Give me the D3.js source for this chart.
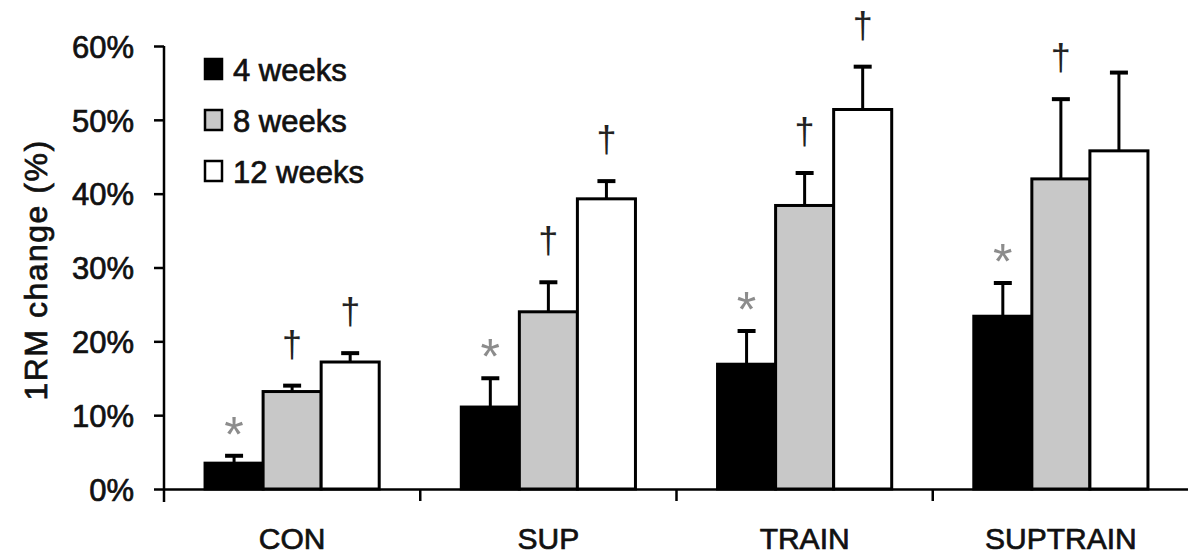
<!DOCTYPE html>
<html><head><meta charset="utf-8">
<script src="https://cdn.jsdelivr.net/npm/d3@7/dist/d3.min.js"></script>
<style>
html,body{margin:0;padding:0;background:#fff;}
svg text{font-family:"Liberation Sans",Arial,Helvetica,sans-serif;}
svg text.lbl{stroke:#111;stroke-width:0.7px;fill:#111;}
</style></head>
<body><svg id="c" width="1188" height="557"></svg>
<script>
const categories = ["CON", "SUP", "TRAIN", "SUPTRAIN"];
const seriesNames = ["4 weeks", "8 weeks", "12 weeks"];
const values4 = [3.5, 11.1, 16.9, 23.4];
const values8 = [13.2, 24.0, 38.4, 42.0];
const values12 = [17.2, 39.3, 51.4, 45.8];
const err4 = [1.0, 3.9, 4.5, 4.5];
const err8 = [0.8, 4.0, 4.4, 10.8];
const err12 = [1.2, 2.4, 5.8, 10.6];
const marks4 = ["*", "*", "*", "*"];
const marks8 = ["†", "†", "†", "†"];
const marks12 = ["†", "†", "†", ""];
const yTicks = [0, 10, 20, 30, 40, 50, 60];
const fills = ["#000000", "#c8c8c8", "#ffffff"];

const svg = d3.select("#c");
const X0 = 164, X1 = 1189, Y0 = 489, Y1 = 46;
const x = d3.scaleBand().domain(categories).range([X0, X1]).padding(0);
const xs = d3.scaleBand().domain(seriesNames).range([0, x.bandwidth()]).paddingInner(0).paddingOuter(0.707);
const y = d3.scaleLinear().domain([0, 60]).range([Y0, Y1]);

const series = [
  {name: seriesNames[0], vals: values4, errs: err4, marks: marks4},
  {name: seriesNames[1], vals: values8, errs: err8, marks: marks8},
  {name: seriesNames[2], vals: values12, errs: err12, marks: marks12}
];
const rows = [];
series.forEach((s, si) => categories.forEach((c, ci) => rows.push({c, s: s.name, si, v: s.vals[ci], e: s.errs[ci], m: s.marks[ci]})));
const cxOf = d => x(d.c) + xs(d.s) + xs.bandwidth() / 2;

// bars
svg.append("g").selectAll("rect").data(rows).join("rect")
  .attr("x", d => x(d.c) + xs(d.s))
  .attr("y", d => y(d.v))
  .attr("width", xs.bandwidth())
  .attr("height", d => y(0) - y(d.v))
  .attr("fill", d => fills[d.si])
  .attr("stroke", "#000").attr("stroke-width", 3);

// error bars
const eg = svg.append("g").attr("stroke", "#000");
eg.selectAll("line.v").data(rows).join("line").attr("class", "v")
  .attr("x1", cxOf).attr("x2", cxOf)
  .attr("y1", d => y(d.v)).attr("y2", d => y(d.v + d.e))
  .attr("stroke-width", 3);
eg.selectAll("line.cap").data(rows).join("line").attr("class", "cap")
  .attr("x1", d => cxOf(d) - 9).attr("x2", d => cxOf(d) + 9)
  .attr("y1", d => y(d.v + d.e)).attr("y2", d => y(d.v + d.e))
  .attr("stroke-width", 4);

// significance markers
svg.append("g").selectAll("text").data(rows.filter(d => d.m)).join("text")
  .attr("text-anchor", "middle")
  .attr("x", cxOf)
  .attr("y", d => d.m === "*" ? y(d.v + d.e) - 4 : y(d.v + d.e) - 29)
  .attr("font-size", d => d.m === "*" ? 50 : 36)
  .attr("fill", d => d.m === "*" ? "#8c8c8c" : "#222")
  .text(d => d.m);

// y axis
const ya = svg.append("g").attr("transform", `translate(${X0},0)`)
  .call(d3.axisLeft(y).tickValues(yTicks).tickSize(10).tickSizeOuter(0).tickFormat(d => d + "%"));
ya.select(".domain").remove();
ya.selectAll(".tick line").attr("stroke", "#000").attr("stroke-width", 2.5);
ya.selectAll(".tick text").attr("class", "lbl").attr("font-size", 31)
  .attr("x", -30).attr("dy", "0.36em").attr("text-anchor", "end");
svg.append("line").attr("x1", X0).attr("x2", X0).attr("y1", Y1).attr("y2", Y0 + 13)
  .attr("stroke", "#000").attr("stroke-width", 2.5);

// x axis
const xa = svg.append("g").attr("transform", `translate(0,${Y0})`)
  .call(d3.axisBottom(x).tickSize(0).tickSizeOuter(0));
xa.select(".domain").attr("stroke", "#000").attr("stroke-width", 2.5);
xa.selectAll(".tick text").attr("class", "lbl").attr("font-size", 30)
  .attr("y", 60).attr("dy", null);
xa.selectAll("line.sep").data(categories.slice(1)).join("line").attr("class", "sep")
  .attr("x1", d => x(d)).attr("x2", d => x(d)).attr("y1", 0).attr("y2", 12)
  .attr("stroke", "#000").attr("stroke-width", 2.5);

// y title
svg.append("text").attr("class", "lbl").attr("transform", "translate(47,270) rotate(-90)")
  .attr("text-anchor", "middle").attr("font-size", 32).attr("letter-spacing", 1.5)
  .text("1RM change (%)");

// legend
const lg = svg.append("g").attr("transform", "translate(204,81)");
const li = lg.selectAll("g").data(seriesNames).join("g").attr("transform", (d, i) => `translate(0,${i * 51})`);
li.append("rect").attr("x", 1).attr("y", -22).attr("width", 17).attr("height", 20)
  .attr("fill", (d, i) => fills[i]).attr("stroke", "#000").attr("stroke-width", 2.5);
li.append("text").attr("class", "lbl").attr("x", 29).attr("y", 0)
  .attr("font-size", 31).text(d => d);
</script></body></html>
